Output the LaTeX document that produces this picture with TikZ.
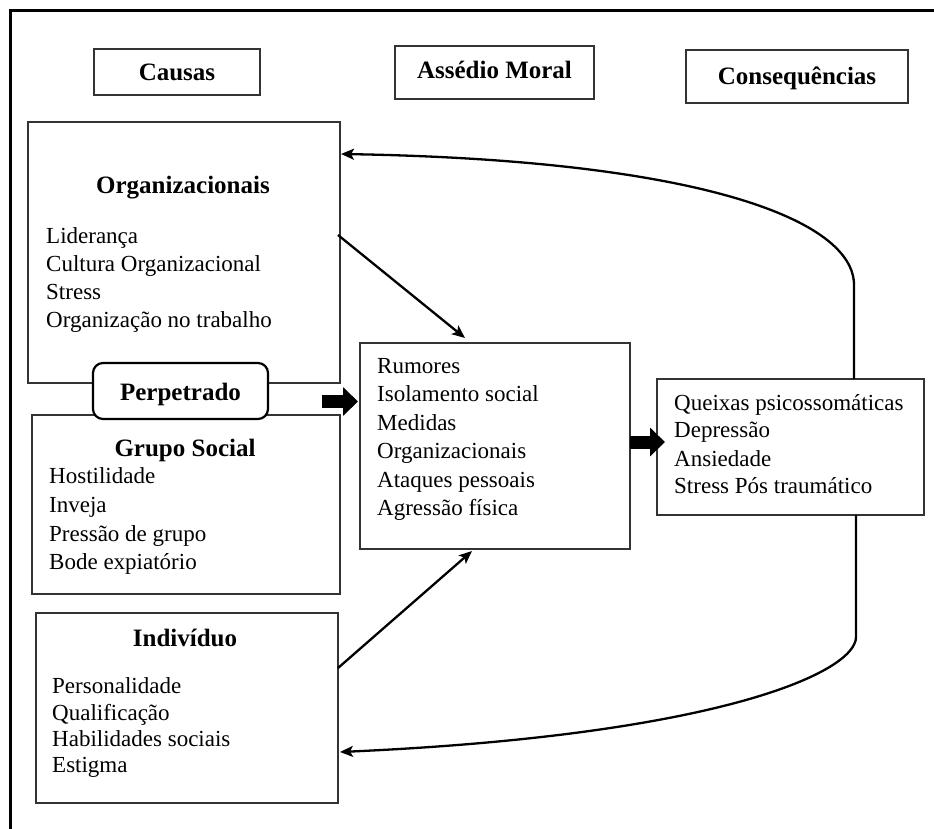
\documentclass[tikz,border=0pt]{standalone}
\usepackage{fontspec}
\setmainfont{Liberation Serif}
\usetikzlibrary{arrows.meta,calc}
\tikzset{
  boxst/.style={draw=black!80, line width=1.3pt, inner sep=0pt},
  ttl/.style={font=\fontsize{25}{30}\selectfont\bfseries, anchor=base, inner sep=0pt},
  itm/.style={font=\fontsize{23}{27}\selectfont, anchor=base west, inner sep=0pt},
  conn/.style={line width=2.3pt, -{Stealth[length=13pt,width=11pt,inset=3pt]}},
  blk/.style={line width=13pt, -{Triangle[length=15pt,width=28pt]}}
}
\begin{document}
\begin{tikzpicture}[x=1pt,y=-1pt]
\useasboundingbox (0,0) rectangle (934,828);
% outer frame
\draw[line width=3pt] (10,840) -- (10,10) -- (945,10);

% header boxes
\node[boxst, minimum width=166pt, minimum height=46pt] (causas) at (177,72) {};
\node[boxst, minimum width=199pt, minimum height=53pt] (assedio) at (494.5,72.5) {};
\node[boxst, minimum width=222pt, minimum height=53pt] (conseq) at (797,76.5) {};
\node[ttl] (tcausas) at (177,80) {Causas};
\node[ttl] (tassedio) at (494.5,78) {Assédio Moral};
\node[ttl] (tconseq) at (797,84) {Consequências};

% left column boxes
\node[boxst, minimum width=312pt, minimum height=261pt] (org) at (184,252.5) {};
\node[boxst, minimum width=308pt, minimum height=179pt] (grupo) at (186,504.5) {};
\node[boxst, minimum width=302pt, minimum height=190pt] (indiv) at (187,708) {};
\node[draw=black, line width=2.2pt, fill=white, rounded corners=10pt,
      minimum width=175pt, minimum height=56pt, inner sep=0pt] (perp) at (180.5,391) {};
\node[ttl] (tperp) at (180.5,400) {Perpetrado};

\node[ttl] (torg) at (183,193) {Organizacionais};
\foreach \y/\t [count=\i] in {243/Liderança, 271/Cultura Organizacional, 299/Stress, 327/Organização no trabalho}
  \node[itm] (org-\i) at (46,\y) {\t};

\node[ttl] (tgrupo) at (185,456) {Grupo Social};
\foreach \y/\t [count=\i] in {483/Hostilidade, 512/Inveja, 541/Pressão de grupo, 569/Bode expiatório}
  \node[itm] (grupo-\i) at (49,\y) {\t};

\node[ttl] (tindiv) at (185,646) {Indivíduo};
\foreach \y/\t [count=\i] in {693/Personalidade, 720/Qualificação, 746/Habilidades sociais, 772/Estigma}
  \node[itm] (indiv-\i) at (52,\y) {\t};

% middle box
\node[boxst, minimum width=270pt, minimum height=206pt] (mid) at (495,446) {};
\foreach \y/\t [count=\i] in {373/Rumores, 401/Isolamento social, 430/Medidas, 458/Organizacionais, 487/Ataques pessoais, 515/Agressão física}
  \node[itm] (mid-\i) at (377,\y) {\t};

% right box
\node[boxst, minimum width=267pt, minimum height=136pt] (rbox) at (790.5,447) {};
\foreach \y/\t [count=\i] in {410/Queixas psicossomáticas, 437/Depressão, 466/Ansiedade, 493/Stress Pós traumático}
  \node[itm] (rbox-\i) at (674,\y) {\t};

% block arrows
\coordinate (pa) at (322,401.5);
\coordinate (pb) at (358,401.5);
\draw[blk] (pa) -- (pb);
\coordinate (ma) at (630,442);
\coordinate (mb) at (665,442);
\draw[blk] (ma) -- (mb);

% thin arrows
\coordinate (oa) at (338,235);
\coordinate (ob) at (465,338);
\draw[conn] (oa) -- (ob);
\coordinate (ia) at (338,668);
\coordinate (ib) at (472,551);
\draw[conn] (ia) -- (ib);

% feedback curves
\coordinate (rt) at (854,379);
\coordinate (ot) at (341,154);
\draw[conn] (rt) -- (854,285) .. controls (854,220) and (700,160) .. (ot);
\coordinate (rb) at (856,515);
\coordinate (it) at (340,752);
\draw[conn] (rb) -- (856,637) .. controls (856,672) and (720,735) .. (it);
\end{tikzpicture}
\end{document}
